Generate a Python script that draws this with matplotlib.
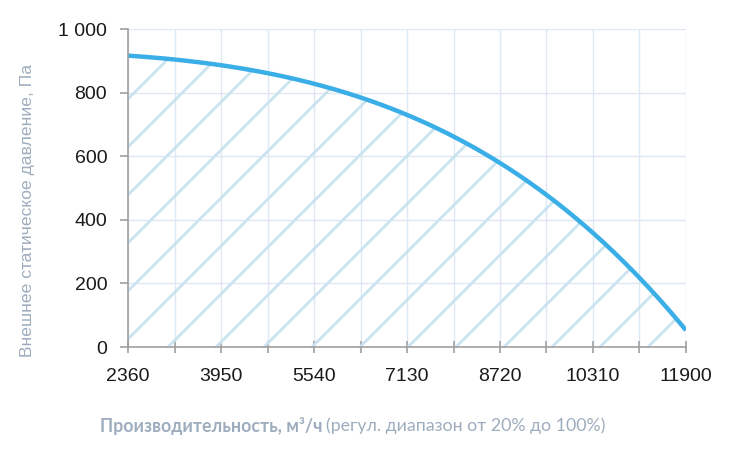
import numpy as np
import matplotlib
matplotlib.use('Agg')
from matplotlib import pyplot as plt

# данные кривой вентилятора
flow = [2360, 3155, 3950, 4745, 5540, 6335, 7130, 7925, 8720, 9515, 10310, 11105, 11900]
pressure = [916, 904, 887, 862, 826, 785, 729, 663, 580, 478, 358, 217, 53]
x_ticks = [2360, 3950, 5540, 7130, 8720, 10310, 11900]
y_ticks = [0, 200, 400, 600, 800, 1000]
y_tick_labels = ['0', '200', '400', '600', '800', '1 000']

curve_color = '#3aaee6'
hatch_color = '#c9e4ef'
grid_color = '#dde8f4'
label_color = '#9eadbe'

fig = plt.figure(figsize=(7.32, 4.67), dpi=100)
ax = fig.add_axes([128 / 732, 120 / 467, 558 / 732, 318 / 467])

# плавная кривая
xs = np.linspace(flow[0], flow[-1], 300)
coef = np.polyfit(flow, pressure, 4)
ys = np.polyval(coef, xs)

poly = ax.fill_between(xs, ys, 0, facecolor='none', edgecolor='none')

# штриховка под кривой (45 градусов в пикселях)
aspect = 558 / 318
step = 48 / 558
start = 40 / 558
for c in np.arange(start - 12 * step, 1.05, step):
    hx = np.array([c, 1.0])
    hy = (hx - c) * aspect
    ln, = ax.plot(hx, hy, color=hatch_color, lw=2.0, transform=ax.transAxes, zorder=2)
    ln.set_clip_path(poly.get_paths()[0], ax.transData)

ax.plot(xs, ys, color=curve_color, lw=3.2, zorder=4, solid_capstyle='butt')

ax.set_xlim(flow[0], flow[-1])
ax.set_ylim(0, 1000)
ax.set_xticks(x_ticks)
ax.set_xticks(flow, minor=True)
ax.set_yticks(y_ticks)
ax.set_yticklabels(y_tick_labels)

ax.grid(True, which='both', axis='x', color=grid_color, lw=1.0, zorder=1)
ax.grid(True, which='major', axis='y', color=grid_color, lw=1.0, zorder=1)
ax.set_axisbelow(True)

for s in ['top', 'right']:
    ax.spines[s].set_visible(False)
for s in ['left', 'bottom']:
    ax.spines[s].set_color('#a0a0a0')
    ax.spines[s].set_linewidth(1.2)
    ax.spines[s].set_zorder(5)

ax.tick_params(axis='x', which='both', direction='inout', length=8, width=1.2,
               color='#a0a0a0', pad=11)
ax.tick_params(axis='y', which='both', direction='out', length=6, width=1.2,
               color='#a0a0a0', pad=9)
for lab in ax.get_xticklabels() + ax.get_yticklabels():
    lab.set_fontfamily(['Liberation Sans', 'DejaVu Sans'])
    lab.set_fontsize(14)
    lab.set_color('#1a1a1a')

fig.text(28 / 732, 1 - 210 / 467, 'Внешнее статическое давление, Па', rotation=90,
         ha='center', va='center', color=label_color, fontsize=12.6,
         family=['Liberation Sans', 'DejaVu Sans'])

t1 = fig.text(100 / 732, 1 - 426 / 467, 'Производительность, м³/ч', ha='left', va='center',
              color=label_color, fontsize=12.8, fontweight='bold', family=['Lato', 'DejaVu Sans'])
fig.canvas.draw()
bb = t1.get_window_extent()
fig.text((bb.x1 + 4) / 732, 1 - 426 / 467, '(регул. диапазон от 20% до 100%)', ha='left',
         va='center', color=label_color, fontsize=12.8, family=['Lato', 'DejaVu Sans'])

fig.savefig('out.png', dpi=100)
